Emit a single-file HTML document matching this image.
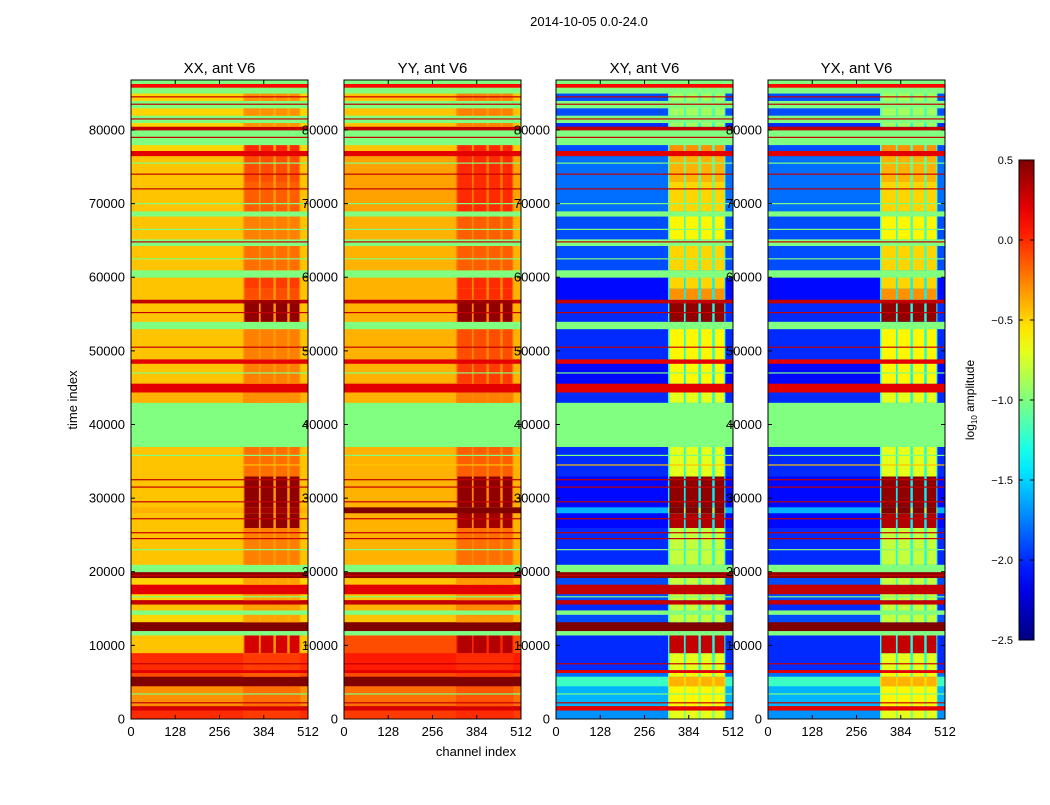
<!DOCTYPE html>
<html><head><meta charset="utf-8"><style>
body{margin:0;background:#fff;font-family:"Liberation Sans",sans-serif}
svg text{font-family:"Liberation Sans",sans-serif;fill:#000}
</style></head><body>
<svg id="fig" width="1050" height="800" xmlns="http://www.w3.org/2000/svg">
<rect width="1050" height="800" fill="#fff"/>
<text x="589" y="26" font-size="13" text-anchor="middle">2014-10-05 0.0-24.0</text>
<text transform="translate(77,400) rotate(-90)" font-size="13" text-anchor="middle">time index</text>
<text x="476" y="756" font-size="13" text-anchor="middle">channel index</text>
<g id="panels"></g>
<g id="cbar"></g>
</svg>
<script>
// time bands [start,end]
const bandStart=[0,1200,1800,4500,5800,6300,6700,9000,11400,12000,13200,14200,14800,15600,16200,17000,18300,19200,20000,21000,26000,28000,28800,33000,37000,43000,44400,45600,48300,48900,53000,54000,56500,57000,58500,60000,61000,64300,65200,68300,69000,73000,76500,77200,78000,80000,80500,81000,82000,83000,84000,85000,85800,86300];
const bandEnd  =[1200,1800,4500,5800,6300,6700,9000,11400,12000,13200,14200,14800,15600,16200,17000,18300,19200,20000,21000,26000,28000,28800,33000,37000,43000,44400,45600,48300,48900,53000,54000,56500,57000,58500,60000,61000,64300,65200,68300,69000,73000,76500,77200,78000,80000,80500,81000,82000,83000,84000,85000,85800,86300,86800];
const xxBase=[0.0,0.25,-0.3,0.5,-0.1,0.2,0.0,-0.45,-1,0.5,-0.5,-1,-0.45,0.3,-0.5,0.2,-0.5,0.45,-1,-0.45,-0.45,-0.4,-0.45,-0.45,-1,-0.4,0.2,-0.45,0.2,-0.45,-1,-0.45,0.3,-0.45,-0.45,-1,-0.45,-1,-0.45,-1,-0.45,-0.45,0.2,-0.5,-1,0.3,-0.5,-1,-0.5,-1,-0.5,-1,0.1,-1];
const xxHot =[-0.05,0.25,-0.2,0.5,-0.15,0.2,-0.05,0.25,-1,0.5,-0.35,-1,-0.35,0.3,-0.35,0.2,-0.35,0.45,-1,-0.25,0.45,0.4,0.45,-0.2,-1,-0.3,0.2,-0.25,0.2,-0.25,-1,0.45,0.4,-0.1,-0.05,-1,-0.2,-1,-0.25,-1,-0.15,-0.1,0.2,0.0,-1,0.3,-0.3,-1,-0.3,-1,-0.3,-1,0.1,-1];
const yyBase=[-0.05,0.25,-0.2,0.5,-0.1,0.2,0.05,-0.1,-1,0.5,-0.45,-1,-0.4,0.3,-0.45,0.2,-0.45,0.45,-1,-0.4,-0.4,0.5,-0.4,-0.4,-1,-0.4,0.2,-0.4,0.2,-0.4,-1,-0.4,0.3,-0.4,-0.4,-1,-0.4,-1,-0.4,-1,-0.35,-0.35,0.2,-0.45,-1,0.3,-0.45,-1,-0.45,-1,-0.45,-1,0.1,-1];
const yyHot =[0.0,0.25,-0.12,0.5,-0.05,0.2,0.0,0.35,-1,0.5,-0.32,-1,-0.28,0.3,-0.32,0.2,-0.32,0.45,-1,-0.2,0.4,0.5,0.45,-0.15,-1,-0.25,0.2,-0.05,0.2,-0.1,-1,0.45,0.4,0.0,0.0,-1,-0.15,-1,-0.15,-1,0.0,0.0,0.2,0.0,-1,0.3,-0.25,-1,-0.25,-1,-0.25,-1,0.1,-1];
const xyBase=[-1.7,0.2,-1.6,-1.2,-1.8,0.2,-2.0,-2.0,-1,0.5,-1.9,-1,-2.0,0.3,-1.9,0.3,-1.9,0.45,-1,-2.0,-2.1,-1.6,-2.1,-2.0,-1,-2.0,0.2,-2.1,0.2,-2.0,-1,-2.0,0.3,-2.1,-2.1,-1,-1.9,-1,-1.9,-1,-1.8,-1.8,0.2,-1.9,-1,0.3,-2.0,-1,-1.9,-1,-1.9,-1,0.1,-1];
const xyHot =[-0.7,0.2,-0.6,-0.4,-0.6,0.2,-0.7,0.3,-1,0.5,-0.8,-1,-0.8,0.3,-0.8,0.3,-0.8,0.45,-1,-0.8,0.35,0.5,0.45,-0.7,-1,-0.7,0.2,-0.6,0.2,-0.6,-1,0.45,0.3,-0.3,-0.5,-1,-0.5,-1,-0.6,-1,-0.5,-0.4,0.2,-0.3,-1,0.3,-0.9,-1,-0.9,-1,-0.9,-1,0.1,-1];
// thin flagged lines (time index, value)
const lineTimes=[2200,3400,7500,16600,19500,23000,24500,25300,27200,29500,31500,32500,34500,35800,47000,50500,55200,62500,64800,66500,70000,72000,74000,75500,79000,81500,83500,84500];
const lineVals=[0.3,-1,0.3,-1,0.3,-1,0.3,0.3,0.3,0.3,0.3,0.3,-0.45,-1,-1,0.3,0.3,-1,0.3,-1,-1,0.3,0.3,-1,0.3,0.3,0.3,0.3];
const panelTitles=["XX, ant V6","YY, ant V6","XY, ant V6","YX, ant V6"];
const chanTicks=[0,128,256,384,512];
const timeTicks=[0,10000,20000,30000,40000,50000,60000,70000,80000];
const cbarTicks=[0.5,0.0,-0.5,-1.0,-1.5,-2.0,-2.5];
const hotCols=[[328,370],[375,412],[419,452],[459,487]];

const NS="http://www.w3.org/2000/svg";
const X0=[131,344,556,768],PW=177,TOP=80,BOT=719,TMAX=86790,VMIN=-2.5,VMAX=0.5;
function ty(t){return BOT-(t/TMAX)*(BOT-TOP);}
function cx(p,c){return X0[p]+c/512*PW;}
function jet(v){let t=(v-VMIN)/(VMAX-VMIN);t=Math.max(0,Math.min(1,t));
 const f=x=>Math.round(255*Math.max(0,Math.min(1,1.5-Math.abs(4*t-x))));
 return `rgb(${f(3)},${f(2)},${f(1)})`;}
function mk(tag,attrs,parent){const e=document.createElementNS(NS,tag);for(const k in attrs)e.setAttribute(k,attrs[k]);parent.appendChild(e);return e;}
const panelsG=document.getElementById('panels');
const bases=[xxBase,yyBase,xyBase,xyBase],hots=[xxHot,yyHot,xyHot,xyHot];
const gapOff=[0.12,0.12,0.7,0.7];
for(let p=0;p<4;p++){
 const g=mk('g',{},panelsG);
 
 
 for(let i=0;i<bandStart.length;i++){
  const y1=ty(bandEnd[i]),y2=ty(bandStart[i]);
  const b=bases[p][i],h=hots[p][i];
  const r=mk('rect',{x:cx(p,0),y:y1,width:PW,height:y2-y1+0.4,fill:jet(b)},g);
  
  
  if(b!==h){
   const gv=Math.min(h,b+gapOff[p]);
   const gr=mk('rect',{x:cx(p,324),y:y1,width:cx(p,490)-cx(p,324),height:y2-y1+0.4,fill:jet(gv)},g);
   
   
   for(const c of hotCols){
    const hr=mk('rect',{x:cx(p,c[0]),y:y1,width:cx(p,c[1])-cx(p,c[0]),height:y2-y1+0.4,fill:jet(h)},g);
    
    
   }
  }
 }
 for(let j=0;j<lineTimes.length;j++){
  const ln=mk('rect',{x:cx(p,0),y:ty(lineTimes[j])-0.6,width:PW,height:1.2,fill:jet(lineVals[j])},g);
  
  
 }
 const fr=mk('rect',{x:X0[p],y:TOP,width:PW,height:BOT-TOP,fill:'none',stroke:'#000','stroke-width':1},g);
 
 
 const tt=mk('text',{x:X0[p]+PW/2,y:73,'font-size':15,'text-anchor':'middle'},g);
 tt.textContent=panelTitles[p];
 
 
 for(const t of timeTicks){
  const y=ty(t);
  mk('line',{x1:X0[p],x2:X0[p]+4,y1:y,y2:y,stroke:'#000'},g);
  mk('line',{x1:X0[p]+PW-4,x2:X0[p]+PW,y1:y,y2:y,stroke:'#000'},g);
  const lb=mk('text',{x:X0[p]-6,y:y+4.5,'font-size':13,'text-anchor':'end'},g);
  lb.textContent=t;
  
  
 }
 for(const c of chanTicks){
  const x=cx(p,c);
  mk('line',{x1:x,x2:x,y1:BOT,y2:BOT-4,stroke:'#000'},g);
  mk('line',{x1:x,x2:x,y1:TOP,y2:TOP+4,stroke:'#000'},g);
  const lb=mk('text',{x:x,y:BOT+17,'font-size':13,'text-anchor':'middle'},g);
  lb.textContent=c;
  
  
 }
}
// colorbar
const cb=document.getElementById('cbar');


const CB={x:1019,w:15,y1:160,y2:640};
const defs=mk('defs',{},cb);
const lg=mk('linearGradient',{id:'jetg',x1:0,y1:1,x2:0,y2:0},defs);
for(let k=0;k<=20;k++){mk('stop',{offset:k/20,'stop-color':jet(VMIN+k/20*(VMAX-VMIN))},lg);}
mk('rect',{x:CB.x,y:CB.y1,width:CB.w,height:CB.y2-CB.y1,fill:'url(#jetg)',stroke:'#000'},cb);
for(const v of cbarTicks){
 const y=CB.y2-(v-VMIN)/(VMAX-VMIN)*(CB.y2-CB.y1);
 mk('line',{x1:CB.x,x2:CB.x+4,y1:y,y2:y,stroke:'#000'},cb);
 mk('line',{x1:CB.x+CB.w-4,x2:CB.x+CB.w,y1:y,y2:y,stroke:'#000'},cb);
 const lb=mk('text',{x:1013,y:y+4,'font-size':11,'text-anchor':'end'},cb);
 lb.textContent=(v<0?'\u2212':'')+Math.abs(v).toFixed(1);
 
 
}
const cl=mk('text',{transform:'translate(974,400) rotate(-90)','font-size':12,'text-anchor':'middle'},cb);
cl.innerHTML='log<tspan font-size="8" dy="3">10</tspan><tspan dy="-3"> amplitude</tspan>';


</script>
</body></html>
